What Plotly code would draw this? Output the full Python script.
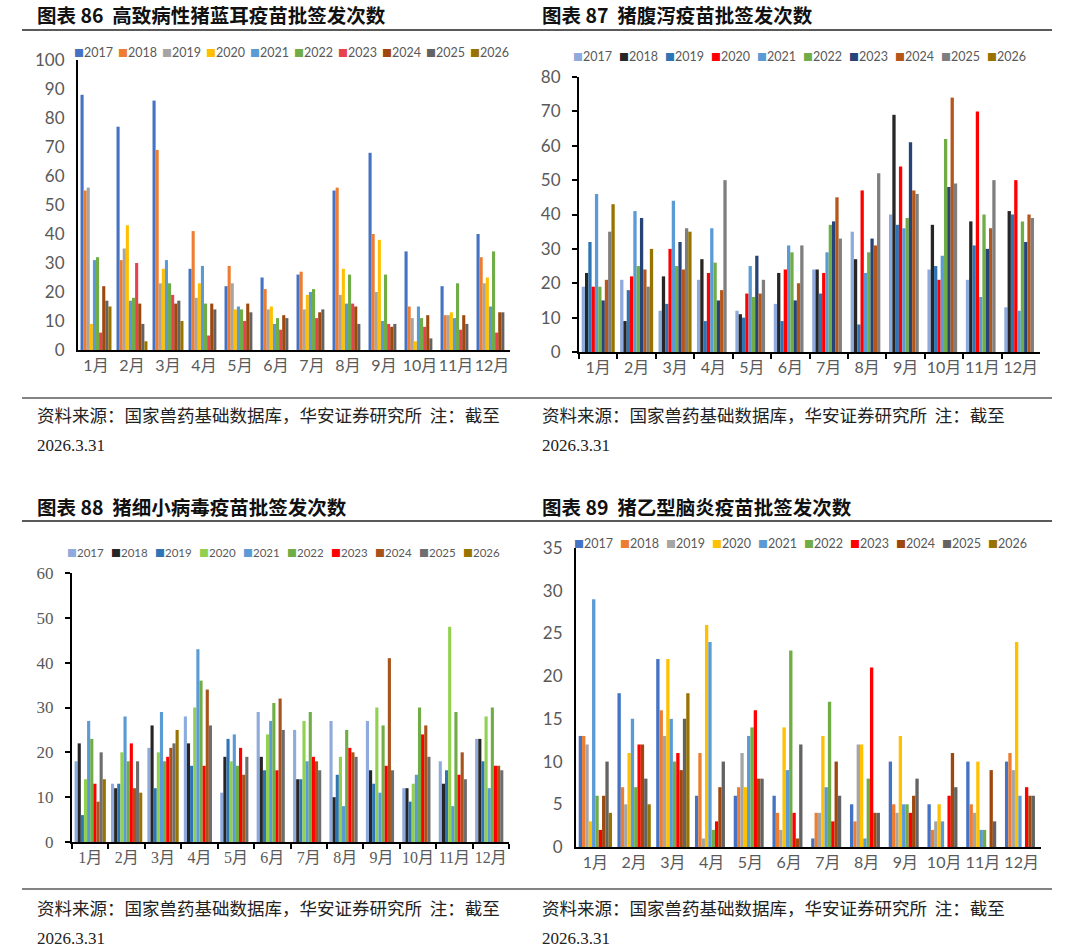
import plotly.graph_objects as go

W, H = 1080, 948

months = ["1月", "2月", "3月", "4月", "5月", "6月", "7月", "8月", "9月", "10月", "11月", "12月"]
years = ["2017", "2018", "2019", "2020", "2021", "2022", "2023", "2024", "2025", "2026"]

# 图表86 高致病性猪蓝耳疫苗批签发次数 (one row per year)
prrs_counts = [
    [88, 77, 86, 28, 22, 25, 26, 55, 68, 34, 22, 40],
    [55, 31, 69, 41, 29, 21, 27, 56, 40, 15, 12, 32],
    [56, 35, 23, 18, 23, 14, 14, 19, 20, 11, 12, 23],
    [9, 43, 28, 23, 14, 15, 19, 28, 38, 3, 13, 25],
    [31, 17, 31, 29, 15, 9, 20, 16, 10, 15, 11, 15],
    [32, 18, 23, 16, 14, 11, 21, 26, 26, 11, 23, 34],
    [6, 30, 19, 5, 10, 7, 11, 16, 9, 8, 7, 6],
    [22, 16, 16, 16, 16, 12, 13, 15, 8, 12, 12, 13],
    [17, 9, 17, 14, 13, 11, 14, 9, 9, 4, 9, 13],
    [15, 3, 10, None, None, None, None, None, None, None, None, None],
]

# 图表87 猪腹泻疫苗批签发次数
diarrhea_counts = [
    [19, 21, 12, 21, 12, 14, 24, 35, 40, 24, 21, 13],
    [23, 9, 22, 27, 11, 23, 24, 27, 69, 37, 38, 41],
    [32, 18, 14, 9, 10, 9, 17, 8, 37, 25, 31, 40],
    [19, 22, 30, 23, 17, 24, 23, 47, 54, 21, 70, 50],
    [46, 41, 44, 36, 25, 31, 29, 23, 36, 28, 16, 12],
    [19, 25, 25, 26, 16, 29, 37, 29, 39, 62, 40, 38],
    [15, 39, 32, 15, 28, 15, 38, 33, 61, 48, 30, 32],
    [21, 24, 24, 18, 17, 20, 45, 31, 47, 74, 36, 40],
    [35, 19, 36, 50, 21, 31, 33, 52, 46, 49, 50, 39],
    [43, 30, 35, None, None, None, None, None, None, None, None, None],
]

# 图表88 猪细小病毒疫苗批签发次数
parvo_counts = [
    [18, 13, 21, 28, 11, 29, 25, 27, 27, 12, 18, 23],
    [22, 12, 26, 22, 19, 19, 14, 10, 16, 12, 13, 23],
    [6, 13, 12, 17, 23, 16, 14, 15, 13, 9, 16, 18],
    [14, 20, 20, 30, 18, 24, 27, 19, 30, 13, 48, 28],
    [27, 28, 29, 43, 24, 27, 18, 8, 11, 15, 8, 12],
    [23, 18, 18, 36, 17, 31, 29, 25, 26, 30, 29, 30],
    [13, 22, 19, 17, 21, 16, 19, 21, 17, 24, 15, 17],
    [9, 12, 21, 34, 15, 32, 18, 20, 41, 26, 20, 17],
    [20, 18, 22, 26, 19, 25, 16, 19, 16, 19, 14, 16],
    [14, 11, 25, None, None, None, None, None, None, None, None, None],
]

# 图表89 猪乙型脑炎疫苗批签发次数
je_counts = [
    [13, 18, 22, 6, 6, 6, 1, 5, 10, 5, 10, 10],
    [13, 7, 16, 11, 7, 4, 4, 3, 5, 2, 5, 11],
    [12, 5, 13, 1, 11, 2, 4, 12, 4, 3, 4, 9],
    [3, 11, 22, 26, 7, 14, 13, 12, 13, 5, 10, 24],
    [29, 15, 15, 24, 13, 9, 7, 1, 5, 3, 2, 6],
    [6, 7, 10, 2, 14, 23, 17, 8, 5, 0, 2, 0],
    [2, 12, 11, 3, 16, 4, 3, 21, 4, 6, 0, 7],
    [6, 12, 9, 7, 8, 1, 10, 4, 6, 11, 9, 6],
    [10, 8, 15, 10, 8, 12, 6, 4, 8, 7, 3, 6],
    [4, 5, 18, None, None, None, None, None, None, None, None, None],
]

titles = [
    "图表 86  高致病性猪蓝耳疫苗批签发次数",
    "图表 87  猪腹泻疫苗批签发次数",
    "图表 88  猪细小病毒疫苗批签发次数",
    "图表 89  猪乙型脑炎疫苗批签发次数",
]
source_note = "资料来源：国家兽药基础数据库，华安证券研究所  注：截至"
source_date = "2026.3.31"

colors_a = ["#4472C4", "#ED7D31", "#A5A5A5", "#FFC000", "#5B9BD5",
            "#70AD47", "#E8424F", "#9E480E", "#636363", "#997300"]
colors_b = ["#8FAADC", "#262626", "#2E75B6", "#FF0000", "#5B9BD5",
            "#70AD47", "#264478", "#B5561B", "#7F7F7F", "#997300"]
colors_c = ["#8FAADC", "#262626", "#2E75B6", "#92D050", "#5B9BD5",
            "#70AD47", "#FF0000", "#A9531C", "#6E6E6E", "#997300"]
colors_d = ["#4472C4", "#ED7D31", "#A5A5A5", "#FFC000", "#5B9BD5",
            "#70AD47", "#FF0000", "#9E480E", "#636363", "#997300"]

SANS = "Lato, Noto Sans CJK SC, sans-serif"
SERIF = "Liberation Serif, Noto Sans CJK SC, serif"
CJK = "Noto Sans CJK SC, sans-serif"
GREY = "#595959"


def px(x):
    return x / W


def py(y):
    return 1 - y / H


# pixel boxes of each plot area: left, right, bottom(0), top(max)
panels = [
    dict(data=prrs_counts, colors=colors_a, box=(78, 510, 350, 60), ymax=100, dtick=10,
         xticks="", yticks="", tickfont=SANS, title_xy=(35, 15), leg=(72, 52, 44, 12.5),
         foot=(35, 414)),
    dict(data=diarrhea_counts, colors=colors_b, box=(579, 1040, 352, 77), ymax=80, dtick=10,
         xticks="outside", yticks="outside", tickfont=SANS, title_xy=(540, 15),
         leg=(571, 57, 46, 12.5), foot=(540, 414)),
    dict(data=parvo_counts, colors=colors_c, box=(72, 509, 842, 573), ymax=60, dtick=10,
         xticks="outside", yticks="outside", tickfont=SERIF, title_xy=(35, 506),
         leg=(65, 552, 44, 11.5), foot=(35, 907)),
    dict(data=je_counts, colors=colors_d, box=(576, 1041, 847, 548), ymax=35, dtick=5,
         xticks="", yticks="", tickfont=SANS, title_xy=(540, 506),
         leg=(572, 543, 46, 12.5), foot=(540, 907)),
]

fig = go.Figure()
axes = {}
annotations = []

for i, p in enumerate(panels, start=1):
    sfx = "" if i == 1 else str(i)
    for year, vals, color in zip(years, p["data"], p["colors"]):
        fig.add_trace(go.Bar(
            x=months, y=vals, name=year,
            marker=dict(color=color, line=dict(width=0)),
            xaxis="x" + sfx, yaxis="y" + sfx, showlegend=False,
        ))

    left, right, bottom, top = p["box"]
    axes["xaxis" + sfx] = dict(
        domain=[px(left), px(right)], anchor="y" + sfx, type="category",
        automargin=False,
        showline=True, linecolor="black", linewidth=2,
        ticks=p["xticks"], tickson="boundaries", ticklen=5, tickcolor="black", tickwidth=1.5,
        tickangle=0, tickfont=dict(family=p["tickfont"], size=16, color=GREY),
        showgrid=False, zeroline=False, fixedrange=True,
    )
    axes["yaxis" + sfx] = dict(
        domain=[py(bottom), py(top)], anchor="x" + sfx,
        automargin=False,
        range=[0, p["ymax"]], dtick=p["dtick"], tick0=0,
        showline=True, linecolor="black", linewidth=2,
        ticks=p["yticks"], ticklen=5, tickcolor="black", tickwidth=1.5,
        tickfont=dict(family=p["tickfont"], size=17, color=GREY),
        ticklabelstandoff=8,
        showgrid=False, zeroline=False, fixedrange=True,
    )

    # chart title
    tx, ty = p["title_xy"]
    annotations.append(dict(
        text="<b>" + titles[i - 1] + "</b>", xref="paper", yref="paper",
        x=px(tx), y=py(ty), xanchor="left", yanchor="middle", showarrow=False,
        font=dict(family=CJK, size=19.5, color="#111111"),
    ))

    # legend row
    lx, ly, step, fsize = p["leg"]
    for k, (year, color) in enumerate(zip(years, p["colors"])):
        annotations.append(dict(
            text=f"<span style='color:{color};font-size:10px'>■</span>{year}",
            xref="paper", yref="paper", x=px(lx + k * step), y=py(ly),
            xanchor="left", yanchor="middle", showarrow=False,
            font=dict(family=SANS, size=fsize, color=GREY),
        ))

    # source footer
    fx, fy = p["foot"]
    annotations.append(dict(
        text=source_note, xref="paper", yref="paper", x=px(fx), y=py(fy),
        xanchor="left", yanchor="middle", showarrow=False,
        font=dict(family=CJK, size=17.5, color="#222222"),
    ))
    annotations.append(dict(
        text=source_date, xref="paper", yref="paper", x=px(fx), y=py(fy + 31),
        xanchor="left", yanchor="middle", showarrow=False,
        font=dict(family=SERIF, size=17, color="#222222"),
    ))

# horizontal rules under titles and above sources
shapes = []
for y, w in [(30, 2), (398, 1.5), (521, 2), (889, 1.5)]:
    shapes.append(dict(type="line", xref="paper", yref="paper",
                       x0=px(22), x1=px(1052), y0=py(y), y1=py(y),
                       line=dict(color="#5a5a5a", width=w)))

fig.update_layout(
    template="none",
    width=W, height=H, autosize=False,
    margin=dict(l=0, r=0, t=0, b=0, pad=0),
    paper_bgcolor="white", plot_bgcolor="white",
    barmode="group", bargap=0.14, bargroupgap=0,
    showlegend=False,
    annotations=annotations, shapes=shapes,
    **axes,
)

fig.write_html("out.html", config={"displayModeBar": False},
               post_script="document.body.style.margin='0';")
